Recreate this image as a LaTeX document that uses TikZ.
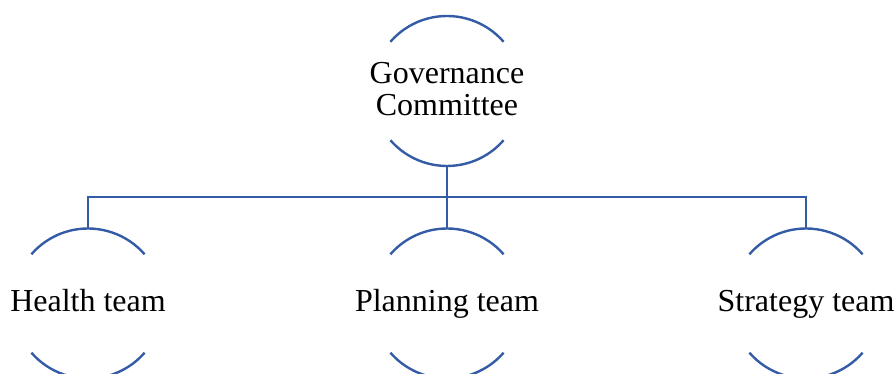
\documentclass[tikz,border=0pt]{standalone}
\usepackage{fontspec}
\setmainfont{Liberation Serif}
\definecolor{orgblue}{RGB}{52,92,166}
\begin{document}
\begin{tikzpicture}[x=0.75pt,y=0.75pt,
  ring/.style={circle,draw=none,minimum size=112.5pt,inner sep=0pt,outer sep=0pt},
  lbl/.style={font=\fontsize{24}{24}\selectfont,align=center,text=black,inner sep=0pt,anchor=base},
  link/.style={draw=orgblue,line width=1.8pt},
  arcline/.style={draw=orgblue,line width=1.8pt,line cap=butt}]
  \useasboundingbox (0,0) rectangle (896,374);
  \clip (0,0) rectangle (896,374);

  % ring holders
  \node[ring] (gov) at (447,283) {};
  \node[ring] (health) at (88,70.5) {};
  \node[ring] (planning) at (447,70.5) {};
  \node[ring] (strategy) at (806,70.5) {};

  % labels, placed by their (last) baselines
  \node[lbl] (govtxt) at (447,258) {Governance\\Committee};
  \node[lbl] (healthtxt) at (88,62) {Health team};
  \node[lbl] (planningtxt) at (447,62) {Planning team};
  \node[lbl] (strategytxt) at (806,62) {Strategy team};

  % open circles: an upper and a lower arc around each label
  \foreach \n in {gov,health,planning,strategy}{
    \draw[arcline] (\n.41) arc[start angle=41,end angle=139,radius=56.25pt];
    \draw[arcline] (\n.221) arc[start angle=221,end angle=319,radius=56.25pt];
  }

  % connectors
  \coordinate (bus) at (447,177);
  \draw[link] (gov.south) -- (bus);
  \draw[link] (health.north) |- (bus) -| (strategy.north);
  \draw[link] (bus) -- (planning.north);
\end{tikzpicture}
\end{document}
